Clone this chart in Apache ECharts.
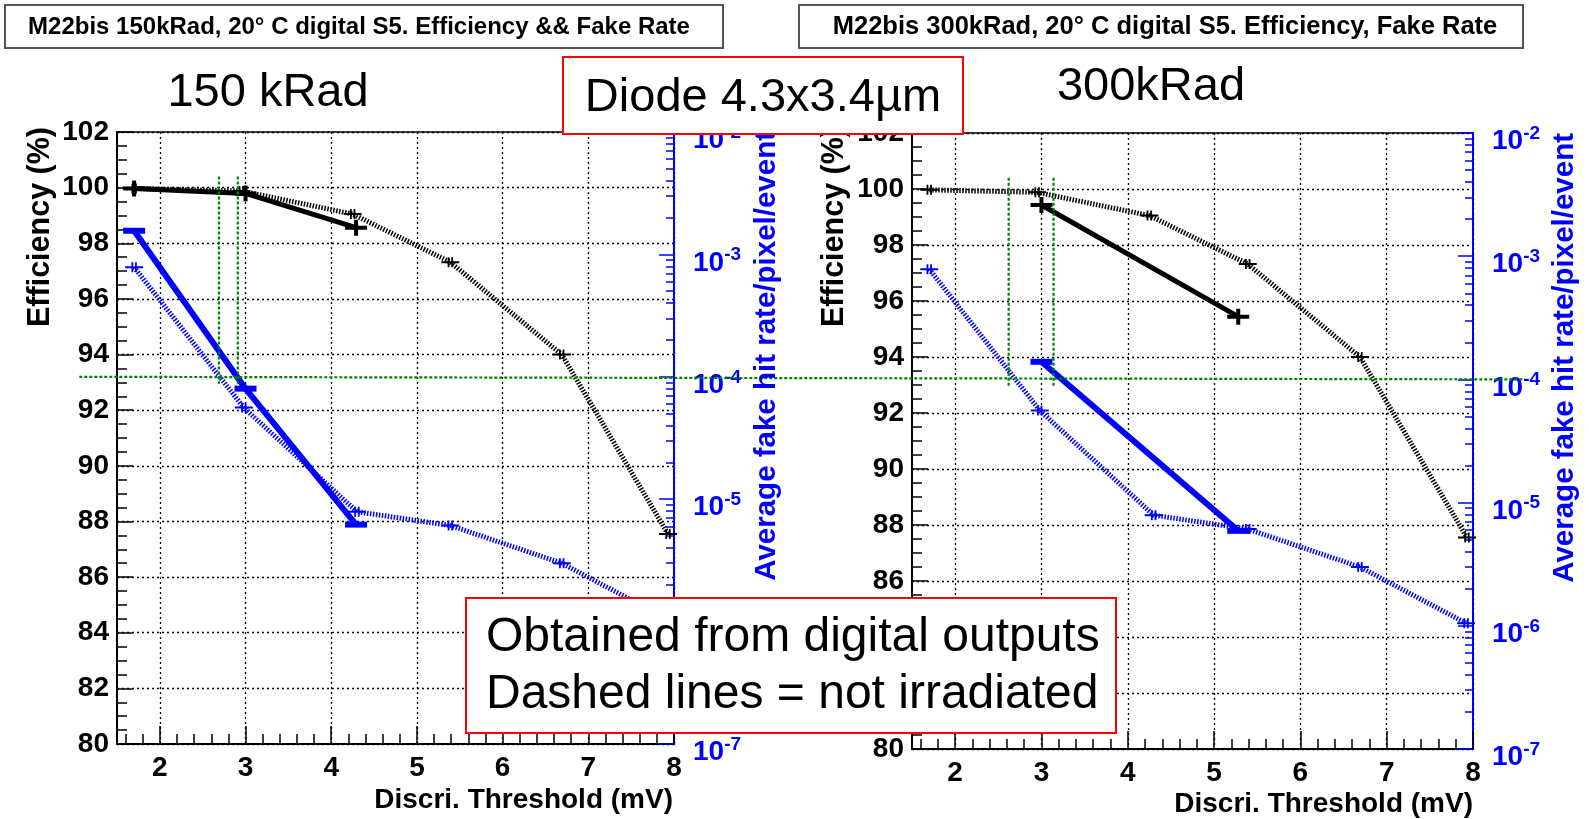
<!DOCTYPE html>
<html>
<head>
<meta charset="utf-8">
<script src="https://cdn.jsdelivr.net/npm/echarts@6/dist/echarts.min.js"></script>
<style>html,body{margin:0;padding:0;background:#fff}#c{width:1589px;height:819px}</style>
</head>
<body>
<div id="c"></div>
<script>
// ---------------- data ----------------
const xTickValues = [2, 3, 4, 5, 6, 7, 8];
const xMinorTickValues = [1.6,1.8,2.2,2.4,2.6,2.8,3.2,3.4,3.6,3.8,4.2,4.4,4.6,4.8,5.2,5.4,5.6,5.8,6.2,6.4,6.6,6.8,7.2,7.4,7.6,7.8];
const logDecades = [1e-7, 1e-6, 1e-5, 1e-4, 1e-3, 1e-2];
const logMantissas = [2, 3, 4, 5, 6, 7, 8, 9];

// not irradiated (dashed) - same in both panels
const refEffThr  = [1.70, 2.95, 4.25, 5.39, 6.69, 7.93];
const refEff     = [99.97, 99.88, 99.05, 97.32, 94.0, 87.55];
const refFakeThr = [1.70, 2.98, 4.30, 5.39, 6.69, 7.92];
const refFake    = [7.85e-4, 5.6e-5, 7.9e-6, 6.1e-6, 3.0e-6, 1.05e-6];

// 150 kRad (solid)
const thr150  = [1.70, 3.00, 4.29];
const eff150  = [99.97, 99.79, 98.56];
const fake150 = [1.56e-3, 8.0e-5, 6.2e-6];

// 300 kRad (solid)
const thr300  = [3.00, 5.28];
const eff300  = [99.43, 95.44];
const fake300 = [1.39e-4, 5.9e-6];

// green guide lines
const fakeLimit = 1e-4;
const greenV150 = [2.69, 2.91];
const greenV300 = [2.62, 3.14];
const greenVRange = [92.95, 100.4];
const greenHFrom = 1.06;  // threshold on left panel
const greenHTo = 8.6;     // threshold on right panel

// ---------------- styling ----------------
const FONT = '"Liberation Sans", Arial, Helvetica, sans-serif';
const BLUE = '#0000ff';
const GREEN = '#008000';
const zip = (a, b) => a.map((v, i) => [v, b[i]]);
const logMinor = [];
logDecades.slice(0, -1).forEach(d => logMantissas.forEach(m => logMinor.push(+(m * d).toPrecision(3))));

const plusPath = 'path://M0,6H9V0H13V6H22V10H13V16H9V10H0Z';
const refMark = 'path://M0,4H7V0H9V4H11V0H13V4H20V6H13V10H11V6H9V10H7V6H0Z';

const grids = [
  {left: 117, top: 132, width: 557, height: 612},
  {left: 912, top: 133, width: 561, height: 616}
];

const xAxes = [], yAxes = [], series = [];
const panels = [
  {thr: thr150, eff: eff150, fake: fake150, gv: greenV150},
  {thr: thr300, eff: eff300, fake: fake300, gv: greenV300}
];

panels.forEach((p, g) => {
  xAxes.push({
    type: 'value', gridIndex: g, min: 1.5, max: 8, position: 'bottom',
    axisLine: {onZero: false, lineStyle: {color: '#000', width: 2}},
    axisTick: {inside: true, length: 18, customValues: xTickValues, lineStyle: {color: '#000', width: 1.5}},
    axisLabel: {customValues: xTickValues, margin: 10, color: '#000', fontSize: 28, fontWeight: 'bold', fontFamily: FONT},
    splitLine: {show: true, lineStyle: {color: '#000', type: [2, 3], width: 1.3}}
  });
  xAxes.push({
    type: 'value', gridIndex: g, min: 1.5, max: 8, position: 'bottom',
    axisLine: {show: false},
    axisTick: {inside: true, length: 10, customValues: xMinorTickValues, lineStyle: {color: '#000', width: 1.5}},
    axisLabel: {show: false}, splitLine: {show: false}
  });
  yAxes.push({
    type: 'value', gridIndex: g, min: 80, max: 102, interval: 2, position: 'left',
    axisLine: {show: true, onZero: false, lineStyle: {color: '#000', width: 2}},
    axisTick: {inside: true, length: 16, lineStyle: {color: '#000', width: 1.5}},
    minorTick: {show: true, splitNumber: 4, length: 10, lineStyle: {color: '#000', width: 1.5}},
    axisLabel: {margin: 8, color: '#000', fontSize: 28, fontWeight: 'bold', fontFamily: FONT},
    splitLine: {show: true, lineStyle: {color: '#000', type: [2, 3], width: 1.3}}
  });
  yAxes.push({
    type: 'log', logBase: 10, gridIndex: g, min: 1e-7, max: 1e-2, position: 'right',
    axisLine: {show: true, onZero: false, lineStyle: {color: BLUE, width: 2}},
    axisTick: {inside: true, length: 15, lineStyle: {color: BLUE, width: 1.5}},
    axisLabel: {
      margin: 19, padding: [10, 0, 0, 0],
      formatter: v => '{b|10}{s|' + Math.round(Math.log10(v)) + '}',
      rich: {
        b: {fontSize: 28, lineHeight: 28, fontWeight: 'bold', color: BLUE, fontFamily: FONT, padding: [7, 0, 0, 0]},
        s: {fontSize: 19, lineHeight: 19, fontWeight: 'bold', color: BLUE, fontFamily: FONT, verticalAlign: 'top'}
      }
    },
    splitLine: {show: false}
  });
  yAxes.push({
    type: 'log', logBase: 10, gridIndex: g, min: 1e-7, max: 1e-2, position: 'right',
    axisLine: {show: false},
    axisTick: {inside: true, length: 8, customValues: logMinor, lineStyle: {color: BLUE, width: 1.5}},
    axisLabel: {show: false}, splitLine: {show: false}
  });

  const xi = 2 * g, ye = 3 * g, yl = 3 * g + 1;
  series.push({
    type: 'line', xAxisIndex: xi, yAxisIndex: ye, data: zip(refEffThr, refEff),
    lineStyle: {color: '#000', width: 5, type: [1.5, 1.5], cap: 'butt'},
    symbol: refMark, symbolSize: [18, 10], itemStyle: {color: '#000'}, z: 2
  });
  series.push({
    type: 'line', xAxisIndex: xi, yAxisIndex: yl, data: zip(refFakeThr, refFake),
    lineStyle: {color: BLUE, width: 5, type: [1.5, 1.5], cap: 'butt'},
    symbol: refMark, symbolSize: [18, 10], itemStyle: {color: BLUE}, z: 2
  });
  series.push({
    type: 'line', xAxisIndex: xi, yAxisIndex: ye, data: zip(p.thr, p.eff),
    lineStyle: {color: '#000', width: 5},
    symbol: plusPath, symbolSize: [22, 16], itemStyle: {color: '#000'}, z: 3
  });
  series.push({
    type: 'line', xAxisIndex: xi, yAxisIndex: yl, data: zip(p.thr, p.fake),
    lineStyle: {color: BLUE, width: 6},
    symbol: 'rect', symbolSize: [22, 6], itemStyle: {color: BLUE}, z: 3
  });
  p.gv.forEach(x => {
    series.push({
      type: 'line', xAxisIndex: xi, yAxisIndex: ye,
      data: [[x, greenVRange[1]], [x, greenVRange[0]]],
      lineStyle: {color: GREEN, width: 2.2, type: [3, 2]}, symbol: 'none', z: 4
    });
  });
});

const txt = (x, y, text, opt) => Object.assign({
  type: 'text', x, y, z: 50,
  style: Object.assign({text, fontFamily: FONT, fill: '#000', align: 'center', verticalAlign: 'middle'}, opt || {})
});

const graphics = [
  // title boxes
  {type: 'rect', z: 40, shape: {x: 5, y: 5, width: 718, height: 43}, style: {fill: '#fff', stroke: '#555', lineWidth: 2}},
  txt(359, 27, 'M22bis 150kRad, 20\u00b0 C digital S5. Efficiency && Fake Rate', {fontSize: 24, fontWeight: 'bold'}),
  {type: 'rect', z: 40, shape: {x: 799, y: 5, width: 724, height: 43}, style: {fill: '#fff', stroke: '#555', lineWidth: 2}},
  txt(1165, 27, 'M22bis 300kRad, 20\u00b0 C digital S5. Efficiency, Fake Rate', {fontSize: 25.5, fontWeight: 'bold'}),
  // big labels
  txt(268, 93, '150 kRad', {fontSize: 47}),
  txt(1151, 87, '300kRad', {fontSize: 47}),
  {type: 'rect', z: 60, shape: {x: 563, y: 57, width: 400, height: 77}, style: {fill: '#fff', stroke: '#ff0000', lineWidth: 2}},
  Object.assign(txt(763, 98, 'Diode 4.3x3.4\u00b5m', {fontSize: 47}), {z: 61}),
  {type: 'rect', z: 60, shape: {x: 466, y: 598, width: 650, height: 135}, style: {fill: '#fff', stroke: '#ff0000', lineWidth: 2}},
  Object.assign(txt(486, 638, 'Obtained from digital outputs', {fontSize: 48, align: 'left'}), {z: 61}),
  Object.assign(txt(486, 695, 'Dashed lines = not irradiated', {fontSize: 48, align: 'left'}), {z: 61}),
  // axis titles
  Object.assign(txt(41, 127, 'Efficiency (%)', {fontSize: 30.5, fontWeight: 'bold', align: 'right'}), {rotation: Math.PI / 2}),
  Object.assign(txt(835, 127, 'Efficiency (%)', {fontSize: 30.5, fontWeight: 'bold', align: 'right'}), {rotation: Math.PI / 2}),
  Object.assign(txt(767, 131, 'Average fake hit rate/pixel/event', {fontSize: 29.5, fontWeight: 'bold', align: 'right', fill: BLUE}), {rotation: Math.PI / 2}),
  Object.assign(txt(1565, 133, 'Average fake hit rate/pixel/event', {fontSize: 29.5, fontWeight: 'bold', align: 'right', fill: BLUE}), {rotation: Math.PI / 2}),
  txt(673, 800, 'Discri. Threshold (mV)', {fontSize: 28, fontWeight: 'bold', align: 'right'}),
  txt(1473, 804, 'Discri. Threshold (mV)', {fontSize: 28, fontWeight: 'bold', align: 'right'})
];

const chart = echarts.init(document.getElementById('c'), null, {renderer: 'canvas'});
chart.setOption({
  animation: false,
  backgroundColor: '#fff',
  grid: grids.map(g => Object.assign({show: true, borderColor: '#000', borderWidth: 1.5, backgroundColor: 'transparent'}, g)),
  xAxis: xAxes,
  yAxis: yAxes,
  series: series,
  graphic: graphics
});

// horizontal green guide at the fake-rate limit, spanning both panels
const p1 = chart.convertToPixel({xAxisIndex: 0, yAxisIndex: 1}, [greenHFrom, fakeLimit]);
const p2 = chart.convertToPixel({xAxisIndex: 2, yAxisIndex: 4}, [greenHTo, fakeLimit]);
if (p1 && p2) {
  graphics.push({
    type: 'line', z: 30,
    shape: {x1: p1[0], y1: p1[1], x2: p2[0], y2: p2[1]},
    style: {stroke: GREEN, lineWidth: 2.2, lineDash: [3, 2]}
  });
  chart.setOption({graphic: graphics}, {replaceMerge: ['graphic']});
}
</script>
</body>
</html>
